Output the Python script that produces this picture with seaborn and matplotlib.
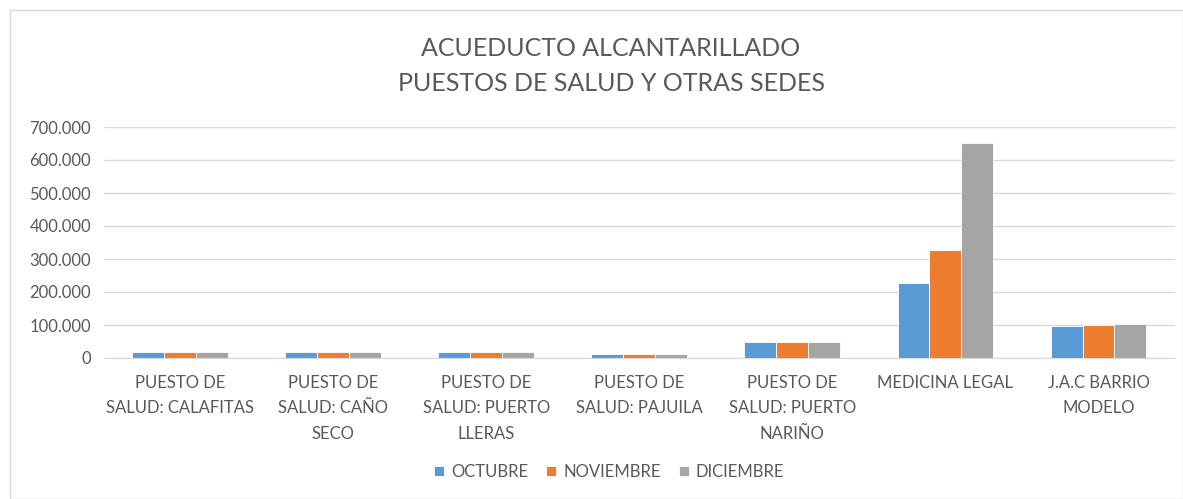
import pandas as pd
import seaborn as sns
import matplotlib.pyplot as plt
from matplotlib.patches import Rectangle
from matplotlib.ticker import FuncFormatter

# values
sedes = ['PUESTO DE\nSALUD: CALAFITAS', 'PUESTO DE\nSALUD: CAÑO\nSECO',
         'PUESTO DE\nSALUD: PUERTO\nLLERAS', 'PUESTO DE\nSALUD: PAJUILA',
         'PUESTO DE\nSALUD: PUERTO\nNARIÑO', 'MEDICINA LEGAL', 'J.A.C BARRIO\nMODELO']
meses = ['OCTUBRE', 'NOVIEMBRE', 'DICIEMBRE']
octubre = [17000, 17000, 17000, 11000, 48000, 228000, 96000]
noviembre = [17000, 17000, 17000, 11000, 48000, 326000, 99000]
diciembre = [17000, 17000, 17000, 11000, 48000, 652000, 102000]
colores = ['#5B9BD5', '#ED7D31', '#A5A5A5']

df = pd.DataFrame({'sede': sedes * 3,
                   'mes': [m for m in meses for _ in sedes],
                   'valor': octubre + noviembre + diciembre})

sns.set_style('white')
plt.rcParams['font.family'] = ['Lato', 'DejaVu Sans']

fig = plt.figure(figsize=(11.83, 4.99), dpi=100)
ax = fig.add_axes([103.5 / 1183, 1 - 358 / 499, (1175 - 103.5) / 1183, 231 / 499])

sns.barplot(data=df, x='sede', y='valor', hue='mes', palette=colores,
            width=0.625, ax=ax, saturation=1, errorbar=None,
            edgecolor='white', linewidth=0.6)

ax.set_xlim(-0.5, 6.5)
ax.set_ylim(0, 700000)
ax.set_yticks(range(0, 700001, 100000))
ax.yaxis.set_major_formatter(FuncFormatter(lambda v, p: f'{int(v):,}'.replace(',', '.')))
ax.grid(axis='y', color='#D9D9D9', linewidth=1)
ax.set_axisbelow(True)
for s in ['top', 'right', 'left']:
    ax.spines[s].set_visible(False)
ax.spines['bottom'].set_color('#D9D9D9')
ax.tick_params(axis='both', length=0, labelsize=12, labelcolor='#595959')
ax.tick_params(axis='y', pad=9)
ax.tick_params(axis='x', pad=12)
ax.set_xlabel('')
ax.set_ylabel('')
for lbl in ax.get_xticklabels():
    lbl.set_linespacing(1.75)
    lbl.set_va('top')

fig.text(611 / 1183, 1 - 66 / 499, 'ACUEDUCTO ALCANTARILLADO\nPUESTOS DE SALUD Y OTRAS SEDES',
         ha='center', va='center', fontsize=18, color='#595959', linespacing=1.6)

ax.legend(loc='center', bbox_to_anchor=(0.515, 1 - 472 / 499), bbox_transform=fig.transFigure,
          ncol=3, frameon=False, fontsize=12, handlelength=0.6, handleheight=0.6,
          columnspacing=1.1, handletextpad=0.4, labelcolor='#595959')

fig.patches.append(Rectangle((10 / 1183, 0), 1 - 10 / 1183, 1 - 10 / 499,
                             transform=fig.transFigure, fill=False,
                             edgecolor='#D9D9D9', linewidth=1))

plt.savefig('out.png', dpi=100)
